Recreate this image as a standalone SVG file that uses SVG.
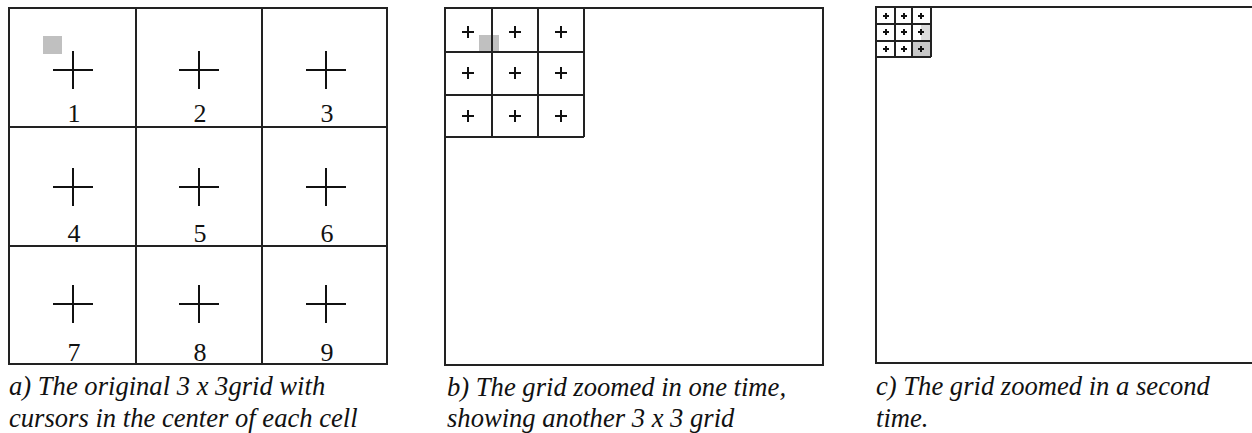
<svg xmlns="http://www.w3.org/2000/svg" width="1252" height="433" viewBox="0 0 1252 433">
<style>
.frame{fill:none;stroke:#222;stroke-width:2}
.grid{stroke:#222;stroke-width:2;fill:none}
.cross{stroke:#111;stroke-width:2}
.num{font-family:"Liberation Serif",serif;font-size:26px;fill:#111;text-anchor:middle}
.cap{font-family:"Liberation Serif",serif;font-style:italic;font-size:26.6px;fill:#111}
.cur{fill:#c0c0c0}
</style>
<rect width="1252" height="433" fill="#fff"/>
<g id="panel-a">
  <rect class="cur" x="43" y="36" width="19" height="18"/>
  <rect class="frame" x="9" y="8" width="378" height="356"/>
  <path class="grid" d="M136 8V364M262 8V364M9 127H387M9 246H387"/>
  <path class="cross" d="M53 70H93M73 51V89M179 70H219M199 51V89M306 70H346M326 51V89M53 187H93M73 168V206M179 187H219M199 168V206M306 187H346M326 168V206M53 304H93M73 285V323M179 304H219M199 285V323M306 304H346M326 285V323"/>
  <text class="num" x="74" y="122">1</text>
  <text class="num" x="200" y="122">2</text>
  <text class="num" x="327" y="122">3</text>
  <text class="num" x="74" y="242">4</text>
  <text class="num" x="200" y="242">5</text>
  <text class="num" x="327" y="242">6</text>
  <text class="num" x="74" y="361">7</text>
  <text class="num" x="200" y="361">8</text>
  <text class="num" x="327" y="361">9</text>
  <text class="cap" x="9" y="395">a) The original 3 x 3grid with</text>
  <text class="cap" x="9" y="427">cursors in the center of each cell</text>
</g>
<g id="panel-b">
  <rect class="cur" x="479" y="35" width="20" height="18"/>
  <rect class="frame" x="445" y="8" width="378" height="357"/>
  <path class="grid" d="M445 52H584M445 95H584M445 137H584M492 8V137M538 8V137M584 8V137"/>
  <path class="cross" d="M462 32H474M468 26V38M509 32H521M515 26V38M555 32H567M561 26V38M462 73H474M468 67V79M509 73H521M515 67V79M555 73H567M561 67V79M462 116H474M468 110V122M509 116H521M515 110V122M555 116H567M561 110V122"/>
  <text class="cap" x="447" y="396">b) The grid zoomed in one time,</text>
  <text class="cap" x="447" y="427">showing another 3 x 3 grid</text>
</g>
<g id="panel-c">
  <rect fill="#c8c8c8" x="913" y="41" width="18" height="16"/>
  <rect fill="#dcdcdc" x="921" y="24" width="10" height="17"/>
  <path class="frame" d="M1254 7H876V363H1254"/>
  <path class="grid" d="M876 24H931M876 41H931M876 57H931M895 7V57M912 7V57M931 7V57"/>
  <path class="cross" stroke-width="1.6" d="M883 16H889M886 13V19M901 16H907M904 13V19M918 16H924M921 13V19M883 32H889M886 29V35M901 32H907M904 29V35M918 32H924M921 29V35M883 49H889M886 46V52M901 49H907M904 46V52M918 49H924M921 46V52"/>
  <text class="cap" x="876" y="395">c) The grid zoomed in a second</text>
  <text class="cap" x="876" y="427">time.</text>
</g>
</svg>
